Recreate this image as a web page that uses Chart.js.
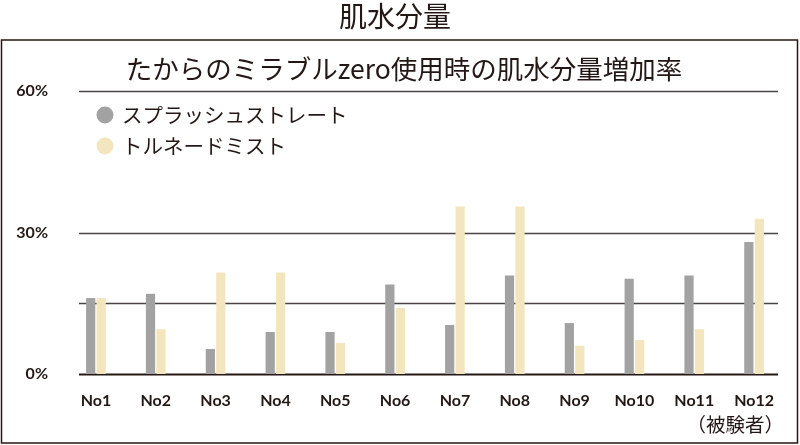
<!DOCTYPE html>
<html lang="ja">
<head>
<meta charset="utf-8">
<title>肌水分量</title>
<script src="https://cdn.jsdelivr.net/npm/chart.js@4/dist/chart.umd.min.js"></script>
<style>
  html, body { margin: 0; padding: 0; background: #fff; }
  #wrap { position: relative; width: 800px; height: 445px; }
</style>
</head>
<body>
<div id="wrap"><canvas id="hadaChart" width="800" height="445"></canvas></div>
<script>
// Données
const subjects = ['No1', 'No2', 'No3', 'No4', 'No5', 'No6', 'No7', 'No8', 'No9', 'No10', 'No11', 'No12'];
const splashStraight = [16.1, 17.0, 5.3, 8.9, 8.9, 19.0, 10.4, 20.9, 10.8, 20.2, 20.9, 28.0];
const tornadoMist = [16.1, 9.5, 21.5, 21.5, 6.6, 14.0, 35.5, 35.5, 6.0, 7.2, 9.5, 32.9];
const gridValues = [0, 15, 30, 60];
const tickLabels = { 0: '0%', 30: '30%', 60: '60%' };

const mainTitle = '肌水分量';
const chartTitle = 'たからのミラブルzero使用時の肌水分量増加率';

const textColor = '#231815';
const lineColor = '#4a4544';
const jpFont = '"Noto Sans CJK JP", sans-serif';

// Cadre autour du graphique
const framePlugin = {
    id: 'frame',
    beforeDraw(chart) {
        const ctx = chart.ctx;
        ctx.save();
        ctx.strokeStyle = textColor;
        ctx.lineWidth = 1.5;
        ctx.strokeRect(1.5, 40, 796, 403);
        ctx.restore();
    }
};

// Recentrer les titres sur la largeur du cadre (le padding droit les décale)
const titleShiftPlugin = {
    id: 'titleShift',
    afterLayout(chart) {
        chart.boxes.forEach(box => {
            if (!box.options || box.options.text === undefined) return;
            if (box.options.text === chartTitle) {
                box.left += 24;
            } else if (box.options.text === mainTitle) {
                box.left += 6;
            }
        });
    }
};

// Lignes horizontales (un peu plus courtes que la zone des barres)
const gridPlugin = {
    id: 'hGrid',
    beforeDatasetsDraw(chart) {
        const ctx = chart.ctx;
        const y = chart.scales.y;
        const area = chart.chartArea;
        ctx.save();
        gridValues.forEach(v => {
            const py = Math.round(y.getPixelForValue(v)) + 0.5;
            ctx.strokeStyle = v === 0 ? textColor : lineColor;
            ctx.lineWidth = v === 0 ? 2 : 1.5;
            ctx.beginPath();
            ctx.moveTo(area.left + 13, py);
            ctx.lineTo(area.right - 6, py);
            ctx.stroke();
        });
        ctx.restore();
    }
};

// Légende dessinée dans la zone du graphique, en haut à gauche
const innerLegendPlugin = {
    id: 'innerLegend',
    afterDatasetsDraw(chart) {
        const ctx = chart.ctx;
        const area = chart.chartArea;
        ctx.save();
        ctx.font = '20.5px ' + jpFont;
        ctx.textBaseline = 'middle';
        ctx.textAlign = 'left';
        chart.data.datasets.forEach((ds, i) => {
            const cy = area.top + 24 + i * 31;
            const cx = area.left + 39;
            ctx.fillStyle = ds.backgroundColor;
            ctx.beginPath();
            ctx.arc(cx, cy, 8.5, 0, Math.PI * 2);
            ctx.fill();
            ctx.fillStyle = textColor;
            ctx.fillText(ds.label, cx + 17, cy);
        });
        ctx.restore();
    }
};

const ctx = document.getElementById('hadaChart').getContext('2d');
new Chart(ctx, {
    type: 'bar',
    data: {
        labels: subjects,
        datasets: [{
            label: 'スプラッシュストレート',
            data: splashStraight,
            backgroundColor: '#a1a2a1'
        }, {
            label: 'トルネードミスト',
            data: tornadoMist,
            backgroundColor: '#f3e6be'
        }]
    },
    options: {
        responsive: false,
        animation: false,
        devicePixelRatio: 1,
        categoryPercentage: 0.35,
        barPercentage: 0.88,
        layout: {
            padding: { left: 0, right: 16, top: 0, bottom: 9 }
        },
        plugins: {
            title: {
                display: true,
                text: mainTitle,
                color: textColor,
                font: { family: jpFont, size: 28, weight: '400', lineHeight: 1.15 },
                padding: { top: 0, bottom: 21 }
            },
            subtitle: {
                display: true,
                text: chartTitle,
                color: textColor,
                font: { family: jpFont, size: 26.5, weight: '400', lineHeight: 1.2 },
                padding: { top: 0, bottom: 6 }
            },
            legend: { display: false },
            tooltip: { enabled: false }
        },
        scales: {
            x: {
                grid: { display: false, drawTicks: false },
                border: { display: false },
                afterFit(scale) {
                    scale.height = 62;
                },
                ticks: {
                    color: textColor,
                    padding: 17,
                    maxRotation: 0,
                    autoSkip: false,
                    font: { family: 'Lato, sans-serif', size: 16, weight: 'bold' }
                },
                title: {
                    display: true,
                    text: '（被験者）',
                    align: 'end',
                    color: textColor,
                    font: { family: jpFont, size: 19.5, lineHeight: 1.2 },
                    padding: { top: 4, bottom: 0 }
                }
            },
            y: {
                min: 0,
                max: 60,
                grid: { display: false, drawTicks: false },
                border: { display: false },
                afterFit(scale) {
                    scale.width = 66;
                },
                ticks: {
                    stepSize: 15,
                    padding: 18,
                    color: textColor,
                    font: { family: 'Lato, sans-serif', size: 16, weight: 'bold' },
                    callback: function(value) {
                        return tickLabels[value] || '';
                    }
                }
            }
        }
    },
    plugins: [framePlugin, titleShiftPlugin, gridPlugin, innerLegendPlugin]
});
</script>
</body>
</html>
